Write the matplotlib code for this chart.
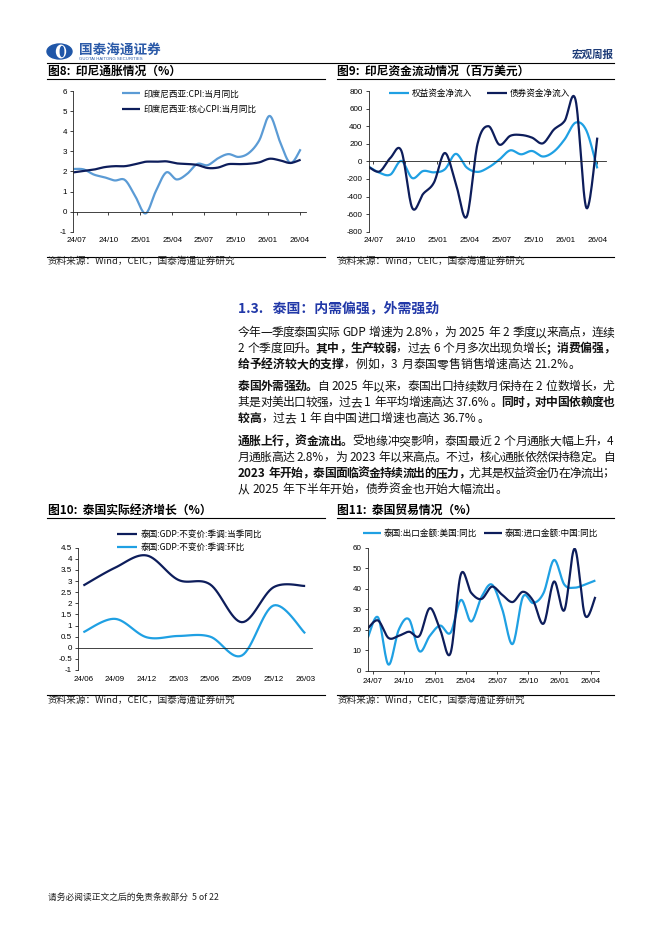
import matplotlib
matplotlib.use('Agg')
import matplotlib.pyplot as plt
import numpy as np
from matplotlib.lines import Line2D
from matplotlib.patches import Ellipse

# ---------------- data ----------------
m_labels = ['24/07', '24/10', '25/01', '25/04', '25/07', '25/10', '26/01', '26/04']

idn_cpi = [2.12, 2.10, 1.84, 1.71, 1.55, 1.57, 0.76, -0.09, 1.03, 1.95, 1.60, 1.87,
           2.37, 2.31, 2.65, 2.86, 2.72, 2.92, 3.55, 4.76, 3.48, 2.42, 3.10]
idn_core = [1.95, 2.02, 2.09, 2.21, 2.26, 2.26, 2.36, 2.48, 2.48, 2.50, 2.40, 2.37,
            2.32, 2.17, 2.19, 2.36, 2.36, 2.38, 2.45, 2.63, 2.55, 2.42, 2.58]

idn_equity = [-60, -130, -150, 5, -190, -110, -125, -90, 85, -70, -120, -70,
              20, 125, 80, 118, 55, 110, 250, 440, 350, -80]
idn_bond = [-65, -115, 40, 120, -530, -370, -240, 95, -250, -630, 200, 400,
            190, 290, 300, 270, 205, 360, 460, 700, -530, 270]

q_labels = ['24/06', '24/09', '24/12', '25/03', '25/06', '25/09', '25/12', '26/03']
th_gdp_yoy = [2.8, 3.6, 4.15, 3.05, 2.85, 1.15, 2.72, 2.78]
th_gdp_qoq = [0.7, 1.3, 0.47, 0.53, 0.5, -0.35, 1.9, 0.65]

th_exp_us = [16, 26, 3, 20, 25, 9.5, 17, 22, 18.5, 34.5, 24, 36, 42, 30, 13, 36,
             33, 38, 54, 42, 40.5, 42, 44]
th_imp_cn = [20.6, 24.5, 16, 17, 19, 17, 30.5, 20, 8.5, 47, 38, 35, 41, 37, 33.5,
             38.5, 34, 23, 43.5, 29.5, 59.5, 27, 36]

ser8 = ['印度尼西亚:CPI:当月同比', '印度尼西亚:核心CPI:当月同比']
ser9 = ['权益资金净流入', '债券资金净流入']
ser10 = ['泰国:GDP:不变价:季调:当季同比', '泰国:GDP:不变价:季调:环比']
ser11 = ['泰国:出口金额:美国:同比', '泰国:进口金额:中国:同比']

# ---------------- setup ----------------
W, H = 662, 936
CJK = ['Noto Sans CJK SC', 'DejaVu Sans']
LAT = ['Liberation Sans', 'DejaVu Sans']
plt.rcParams['font.family'] = CJK
fig = plt.figure(figsize=(W / 100, H / 100), dpi=100)
renderer = fig.canvas.get_renderer()

NAVY = '#0D1D5B'
LIGHT = '#1FA0E3'
LIGHT8 = '#5B9BD5'


def rect(x0, y0, x1, y1):
    return [x0 / W, 1 - y1 / H, (x1 - x0) / W, (y1 - y0) / H]


def hline(x0, x1, y, lw=0.8, color='black'):
    fig.add_artist(Line2D([x0 / W, x1 / W], [1 - y / H, 1 - y / H],
                          transform=fig.transFigure, lw=lw, color=color))


def ftext(x, y, s, **kw):
    return fig.text(x / W, 1 - y / H, s, **kw)


def catmull(xs, ys, n=16):
    P = np.column_stack([xs, ys]).astype(float)
    P = np.vstack([P[0], P, P[-1]])
    t = np.linspace(0, 1, n, endpoint=False)[:, None]
    out = []
    for i in range(len(P) - 3):
        p0, p1, p2, p3 = P[i], P[i + 1], P[i + 2], P[i + 3]
        seg = 0.5 * ((2 * p1) + (-p0 + p2) * t + (2 * p0 - 5 * p1 + 4 * p2 - p3) * t ** 2
                     + (-p0 + 3 * p1 - 3 * p2 + p3) * t ** 3)
        out.append(seg)
    out.append(P[-2][None, :])
    out = np.vstack(out)
    return out[:, 0], out[:, 1]


def base_axes(r, xlim, ylim, yticks):
    ax = fig.add_axes(r)
    ax.patch.set_alpha(0)
    ax.set_xlim(*xlim)
    ax.set_ylim(*ylim)
    for s in ['top', 'right']:
        ax.spines[s].set_visible(False)
    for s in ['left', 'bottom']:
        ax.spines[s].set_linewidth(0.6)
        ax.spines[s].set_color('#222222')
    ax.set_yticks(yticks)
    ax.set_yticklabels(['{:g}'.format(v) for v in yticks], fontsize=5.8, family=LAT)
    ax.tick_params(axis='y', length=2.5, width=0.6, pad=2, color='#222222')
    return ax


def zero_line_xaxis(ax, tickpos, labels, ylab=-0.035, ticks=True):
    ax.spines['bottom'].set_position(('data', 0))
    ax.set_xticks(tickpos)
    ax.tick_params(axis='x', length=2.5 if ticks else 0, width=0.6,
                   labelbottom=False, color='#222222')
    for p, l in zip(tickpos, labels):
        ax.text(p, ylab, l, transform=ax.get_xaxis_transform(), ha='center',
                va='top', fontsize=5.8, family=LAT)


def smooth_plot(ax, y, color, lw=1.6):
    xs, ys = catmull(np.arange(len(y)), y)
    return ax.plot(xs, ys, color=color, lw=lw, solid_capstyle='butt')[0]


def legend(handles, labels, x, y, ncol=1, fs=6.2, hl=2.2, htp=0.35, ls=0.7, cs=1.5):
    fig.legend(handles, labels, loc='center left', bbox_to_anchor=(x / W, 1 - y / H),
               bbox_transform=fig.transFigure, frameon=False, ncol=ncol, fontsize=fs,
               handlelength=hl, handletextpad=htp, labelspacing=ls, columnspacing=cs,
               borderpad=0, borderaxespad=0)


# ---------------- header ----------------
fig.add_artist(Ellipse((59.5 / W, 1 - 51.5 / H), 25 / W, 15 / H,
                       transform=fig.transFigure, color='#1F56A8'))
fig.add_artist(Ellipse((61.0 / W, 1 - 51.5 / H), 9 / W, 12.5 / H,
                       transform=fig.transFigure, color='white'))
fig.add_artist(Ellipse((62.0 / W, 1 - 51.5 / H), 3.5 / W, 10 / H,
                       transform=fig.transFigure, color='#1F56A8'))
ftext(79, 50.5, '国泰海通证券', fontsize=9.8, fontweight='bold', color='#2B5AA8',
      va='center', ha='left')
ftext(79, 58.6, 'GUOTAI HAITONG SECURITIES', fontsize=3.1, color='#2B5AA8',
      va='center', ha='left', family=LAT)
ftext(614, 55, '宏观周报', fontsize=7.6, fontweight='bold', color='#1E3C78',
      va='center', ha='right')
hline(47, 614, 63.3)

# ---------------- chart titles / sources ----------------
ftext(47.5, 71.7, '图8:  印尼通胀情况（%）', fontsize=8.5, fontweight='bold',
      va='center', ha='left')
ftext(337.5, 71.7, '图9:  印尼资金流动情况（百万美元）', fontsize=8.5, fontweight='bold',
      va='center', ha='left')
hline(47, 325, 79.3)
hline(337.5, 614, 79.3)
hline(47, 325, 256.7)
hline(337.5, 614, 256.7)
src = '资料来源：Wind，CEIC，国泰海通证券研究'
ftext(47.5, 261.5, src, fontsize=6.9, va='center', ha='left', color='#222222')
ftext(337.5, 261.5, src, fontsize=6.9, va='center', ha='left', color='#222222')

ftext(47.5, 510, '图10:  泰国实际经济增长（%）', fontsize=8.5, fontweight='bold',
      va='center', ha='left')
ftext(337.5, 510, '图11:  泰国贸易情况（%）', fontsize=8.5, fontweight='bold',
      va='center', ha='left')
hline(47, 325, 518.3)
hline(337.5, 614, 518.3)
hline(47, 325, 695)
hline(337.5, 614, 695)
ftext(47.5, 700.5, src, fontsize=6.9, va='center', ha='left', color='#222222')
ftext(337.5, 700.5, src, fontsize=6.9, va='center', ha='left', color='#222222')

# ---------------- chart 8 ----------------
ax8 = base_axes(rect(73.3, 91, 305.8, 231.7), (0, 22.5), (-1, 6), list(range(-1, 7)))
zero_line_xaxis(ax8, np.linspace(0.32, 21.9, 8), m_labels)
h8a = smooth_plot(ax8, idn_cpi, LIGHT8)
h8b = smooth_plot(ax8, idn_core, NAVY)
legend([h8a, h8b], ser8, 121.7, 101.7, hl=2.15, htp=0.35, ls=0.75)

# ---------------- chart 9 ----------------
ax9 = base_axes(rect(368.7, 91, 606, 231.7), (0, 21.8), (-800, 800),
                list(range(-800, 801, 200)))
zero_line_xaxis(ax9, np.linspace(0.43, 21.0, 8), m_labels)
h9a = smooth_plot(ax9, idn_equity, LIGHT)
h9b = smooth_plot(ax9, idn_bond, NAVY)
legend([h9a, h9b], ser9, 389, 93.3, ncol=2, hl=2.35, htp=0.25, cs=1.75)

# ---------------- chart 10 ----------------
ax10 = base_axes(rect(78.3, 547.7, 311.5, 670), (-0.16, 7.2), (-1, 4.5),
                 list(np.arange(-1, 4.51, 0.5)))
zero_line_xaxis(ax10, np.arange(len(q_labels)), q_labels, ylab=-0.05, ticks=False)
h10a = smooth_plot(ax10, th_gdp_yoy, NAVY)
h10b = smooth_plot(ax10, th_gdp_qoq, LIGHT)
legend([h10a, h10b], ser10, 116.7, 540.8, hl=2.35, htp=0.4, ls=0.5)

# ---------------- chart 11 ----------------
ax11 = base_axes(rect(367.7, 547.7, 599, 670.7), (0, 22.35), (0, 60),
                 list(range(0, 61, 10)))
ax11.set_xticks(np.linspace(0.48, 21.55, 8))
ax11.set_xticklabels(m_labels, fontsize=5.8, family=LAT)
ax11.tick_params(axis='x', length=2.5, width=0.6, pad=2.5, color='#222222')
h11a = smooth_plot(ax11, th_exp_us, LIGHT)
h11b = smooth_plot(ax11, th_imp_cn, NAVY)
legend([h11a, h11b], ser11, 362.7, 533.3, ncol=2, fs=6.2, hl=2.1, htp=0.35, cs=0.8)

# ---------------- section text ----------------
ftext(237.5, 308.3, '1.3.   泰国：内需偏强，外需强劲', fontsize=10, fontweight='bold',
      color='#2138A8', va='center', ha='left')


def is_cjk(ch):
    return ord(ch) >= 0x2E80


def draw_line(x, yc, segs, size=8.5, target=None, color='#111111'):
    em = size * 100 / 72
    base = yc + 0.37 * em
    tokens = []
    gap = 0.0
    for s, b in segs:
        buf = ''
        for ch in s:
            if ch == ' ':
                if buf:
                    tokens.append([buf, b, gap, None]); buf = ''; gap = 0.0
                gap += 0.25 * em
            elif is_cjk(ch):
                if buf:
                    tokens.append([buf, b, gap, None]); buf = ''; gap = 0.0
                tokens.append([ch, b, gap, em]); gap = 0.0
            else:
                buf += ch
        if buf:
            tokens.append([buf, b, gap, None]); buf = ''; gap = 0.0
    for tk in tokens:
        if tk[3] is None:
            t = fig.text(0, 0, tk[0], fontsize=size,
                         fontweight='bold' if tk[1] else 'light')
            tk[3] = t.get_window_extent(renderer).width + 0.07 * em
            t.remove()
    total = sum(tk[2] + tk[3] for tk in tokens) - tokens[0][2]
    extra = 0.0
    if target is not None and len(tokens) > 1:
        extra = (target - total) / (len(tokens) - 1)
    cur = x
    for k, tk in enumerate(tokens):
        if k > 0:
            cur += tk[2] + extra
        ftext(cur, base, tk[0], fontsize=size, fontweight='bold' if tk[1] else 'light',
              va='baseline', ha='left', color=color)
        cur += tk[3]


N, B = False, True
paras = [
    (331.7, [[('今年一季度泰国实际 GDP 增速为 2.8%，为 2025 年 2 季度以来高点，连续', N)],
             [('2 个季度回升。', N), ('其中，生产较弱', B), ('，过去 6 个月多次出现负增长', N),
              ('；消费偏强，', B)],
             [('给予经济较大的支撑', B), ('，例如，3 月泰国零售销售增速高达 21.2%。', N)]]),
    (385.7, [[('泰国外需强劲。', B), ('自 2025 年以来，泰国出口持续数月保持在 2 位数增长，尤', N)],
             [('其是对美出口较强，过去 1 年平均增速高达 37.6%。', N), ('同时，对中国依赖度也', B)],
             [('较高', B), ('，过去 1 年自中国进口增速也高达 36.7%。', N)]]),
    (440.7, [[('通胀上行，资金流出。', B), ('受地缘冲突影响，泰国最近 2 个月通胀大幅上升，4', N)],
             [('月通胀高达 2.8%，为 2023 年以来高点。不过，核心通胀依然保持稳定。自', N)],
             [('2023 年开始，泰国面临资金持续流出的压力，', B), ('尤其是权益资金仍在净流出；', N)],
             [('从 2025 年下半年开始，债券资金也开始大幅流出。', N)]]),
]
for y0, lines in paras:
    for k, segs in enumerate(lines):
        last = (k == len(lines) - 1)
        draw_line(237.5, y0 + k * 15.9, segs, target=None if last else 377)

ftext(47.5, 897, '请务必阅读正文之后的免责条款部分  5 of 22', fontsize=6.3,
      va='center', ha='left', color='#222222')

fig.savefig('out.png', dpi=100)
